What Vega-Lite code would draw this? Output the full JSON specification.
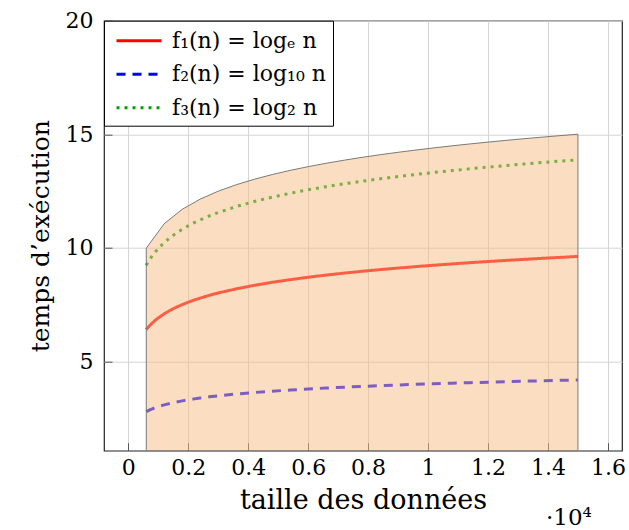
{
  "$schema": "https://vega.github.io/schema/vega-lite/v6.json",
  "autosize": "none",
  "padding": {"left": 104, "top": 20.7, "right": 7, "bottom": 79.3},
  "width": 518,
  "height": 430,
  "background": "white",
  "config": {
    "font": "DejaVu Serif",
    "view": {"stroke": "#222222", "strokeWidth": 1.2},
    "axis": {
      "domain": false,
      "grid": true,
      "gridColor": "#d4d4d4",
      "gridWidth": 1,
      "tickColor": "#555555",
      "tickSize": -8,
      "tickWidth": 1,
      "labelFont": "DejaVu Serif",
      "labelFontSize": 22,
      "labelColor": "#000000",
      "titleFont": "DejaVu Serif",
      "titleFontSize": 25,
      "titleFontWeight": "normal",
      "titleColor": "#000000"
    }
  },
  "datasets": {
    "lines": [
      {"n": 600, "a": 6.3969, "b": 2.7782, "c": 9.2288},
      {"n": 700, "a": 6.5511, "b": 2.8451, "c": 9.4512},
      {"n": 800, "a": 6.6846, "b": 2.9031, "c": 9.6439},
      {"n": 900, "a": 6.8024, "b": 2.9542, "c": 9.8138},
      {"n": 1000, "a": 6.9078, "b": 3.0, "c": 9.9658},
      {"n": 1200, "a": 7.0901, "b": 3.0792, "c": 10.2288},
      {"n": 1400, "a": 7.2442, "b": 3.1461, "c": 10.4512},
      {"n": 1600, "a": 7.3778, "b": 3.2041, "c": 10.6439},
      {"n": 1800, "a": 7.4955, "b": 3.2553, "c": 10.8138},
      {"n": 2000, "a": 7.6009, "b": 3.3010, "c": 10.9658},
      {"n": 2200, "a": 7.6962, "b": 3.3424, "c": 11.1033},
      {"n": 2400, "a": 7.7832, "b": 3.3802, "c": 11.2288},
      {"n": 2700, "a": 7.9010, "b": 3.4314, "c": 11.3987},
      {"n": 3000, "a": 8.0064, "b": 3.4771, "c": 11.5507},
      {"n": 3600, "a": 8.1887, "b": 3.5563, "c": 11.8138},
      {"n": 4200, "a": 8.3428, "b": 3.6232, "c": 12.0362},
      {"n": 4800, "a": 8.4764, "b": 3.6812, "c": 12.2288},
      {"n": 5400, "a": 8.5942, "b": 3.7324, "c": 12.3987},
      {"n": 6000, "a": 8.6995, "b": 3.7782, "c": 12.5507},
      {"n": 6600, "a": 8.7948, "b": 3.8195, "c": 12.6882},
      {"n": 7200, "a": 8.8818, "b": 3.8573, "c": 12.8138},
      {"n": 7800, "a": 8.9619, "b": 3.8921, "c": 12.9293},
      {"n": 8400, "a": 9.0360, "b": 3.9243, "c": 13.0362},
      {"n": 9000, "a": 9.1050, "b": 3.9542, "c": 13.1357},
      {"n": 9600, "a": 9.1695, "b": 3.9823, "c": 13.2288},
      {"n": 10200, "a": 9.2301, "b": 4.0086, "c": 13.3163},
      {"n": 10800, "a": 9.2873, "b": 4.0334, "c": 13.3987},
      {"n": 11400, "a": 9.3414, "b": 4.0569, "c": 13.4767},
      {"n": 12000, "a": 9.3927, "b": 4.0792, "c": 13.5507},
      {"n": 12600, "a": 9.4415, "b": 4.1004, "c": 13.6211},
      {"n": 13200, "a": 9.4880, "b": 4.1206, "c": 13.6882},
      {"n": 13800, "a": 9.5325, "b": 4.1399, "c": 13.7523},
      {"n": 14400, "a": 9.5750, "b": 4.1584, "c": 13.8138},
      {"n": 15000, "a": 9.6158, "b": 4.1761, "c": 13.8727}
    ],
    "band": [
      {"n": 600, "upper": 9.979},
      {"n": 1200, "upper": 11.060},
      {"n": 1800, "upper": 11.693},
      {"n": 2400, "upper": 12.142},
      {"n": 3000, "upper": 12.490},
      {"n": 3600, "upper": 12.774},
      {"n": 4200, "upper": 13.015},
      {"n": 4800, "upper": 13.223},
      {"n": 5400, "upper": 13.407},
      {"n": 6000, "upper": 13.571},
      {"n": 6600, "upper": 13.720},
      {"n": 7200, "upper": 13.856},
      {"n": 7800, "upper": 13.981},
      {"n": 8400, "upper": 14.096},
      {"n": 9000, "upper": 14.204},
      {"n": 9600, "upper": 14.304},
      {"n": 10200, "upper": 14.399},
      {"n": 10800, "upper": 14.488},
      {"n": 11400, "upper": 14.573},
      {"n": 12000, "upper": 14.653},
      {"n": 12600, "upper": 14.729},
      {"n": 13200, "upper": 14.801},
      {"n": 13800, "upper": 14.871},
      {"n": 14400, "upper": 14.937},
      {"n": 15000, "upper": 15.001}
    ],
    "note": [{"n": 14700, "y": -1.9, "label": "·10⁴"}]
  },
  "layer": [
    {
      "data": {"name": "lines"},
      "transform": [{"fold": ["a", "b", "c"], "as": ["fn", "value"]}],
      "mark": {"type": "line", "strokeWidth": 3, "clip": true},
      "encoding": {
        "x": {
          "field": "n", "type": "quantitative",
          "scale": {"domain": [-810, 16470], "nice": false, "zero": false},
          "axis": {
            "values": [0, 2000, 4000, 6000, 8000, 10000, 12000, 14000, 16000],
            "labelExpr": "datum.value / 10000 + ''",
            "labelPadding": 15,
            "title": "taille des données",
            "titleFontSize": 27,
            "titlePadding": 9
          }
        },
        "y": {
          "field": "value", "type": "quantitative",
          "scale": {"domain": [1.06, 20], "nice": false, "zero": false},
          "axis": {
            "values": [5, 10, 15, 20],
            "labelPadding": 19,
            "title": "temps d’exécution",
            "titlePadding": 12
          }
        },
        "color": {
          "field": "fn", "type": "nominal",
          "scale": {"domain": ["a", "b", "c"], "range": ["#ff0000", "#0000ff", "#00a000"]},
          "legend": {
            "title": null,
            "orient": "top-left",
            "offset": 0,
            "padding": 7,
            "fillColor": "white",
            "strokeColor": "#000000",
            "cornerRadius": 0,
            "symbolType": "M-2,0H2",
            "symbolSize": 506,
            "symbolOffset": 15,
            "symbolStrokeWidth": 3,
            "labelFont": "DejaVu Serif",
            "labelFontSize": 22,
            "labelColor": "#000000",
            "rowPadding": 9.5,
            "labelOffset": 20,
            "labelExpr": "datum.value == 'a' ? 'f₁(n) = logₑ n' : datum.value == 'b' ? 'f₂(n) = log₁₀ n' : 'f₃(n) = log₂ n'"
          }
        },
        "strokeDash": {
          "field": "fn", "type": "nominal",
          "scale": {"domain": ["a", "b", "c"], "range": [[1, 0], [9, 7], [3, 5]]},
          "legend": null
        }
      }
    },
    {
      "data": {"name": "band"},
      "mark": {"type": "area", "clip": true, "color": "#f7bb85", "fillOpacity": 0.5, "stroke": "#7a7a7a", "strokeWidth": 1, "strokeOpacity": 1},
      "encoding": {
        "x": {"field": "n", "type": "quantitative"},
        "y": {"field": "upper", "type": "quantitative"},
        "y2": {"datum": 1.06}
      }
    },
    {
      "data": {"name": "note"},
      "mark": {"type": "text", "font": "DejaVu Serif", "fontSize": 23, "color": "#000000", "align": "center", "baseline": "middle"},
      "encoding": {
        "x": {"field": "n", "type": "quantitative"},
        "y": {"field": "y", "type": "quantitative"},
        "text": {"field": "label"}
      }
    }
  ]
}
